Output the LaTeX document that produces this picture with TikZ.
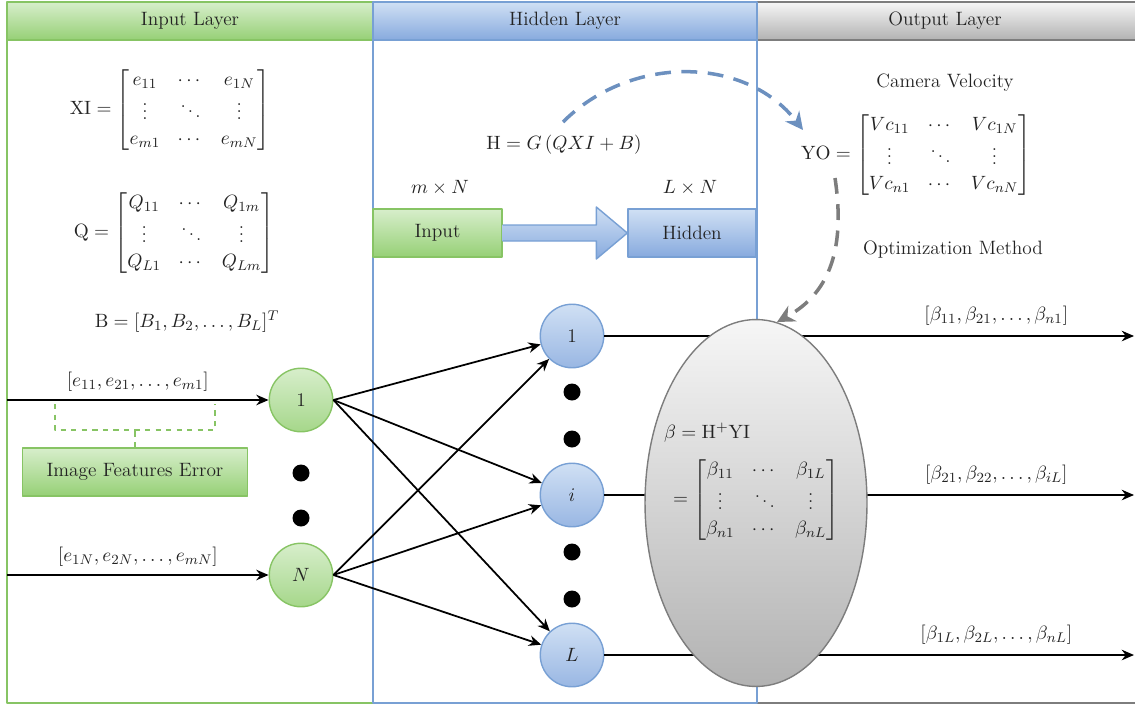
\documentclass[tikz,border=0pt]{standalone}
\usepackage{amsmath}
\usetikzlibrary{arrows.meta,shapes.geometric,positioning,calc}
\definecolor{grnline}{RGB}{135,196,100}
\definecolor{grntop}{RGB}{215,238,203}
\definecolor{grnbot}{RGB}{150,208,118}
\definecolor{blueline}{RGB}{120,160,212}
\definecolor{bluetop}{RGB}{208,224,244}
\definecolor{bluebot}{RGB}{135,170,222}
\definecolor{graytop}{RGB}{246,246,246}
\definecolor{graybot}{RGB}{178,178,178}
\definecolor{grayline}{RGB}{125,125,125}
\definecolor{txt}{RGB}{35,35,35}
\renewcommand{\arraystretch}{1.12}
\tikzset{
  innode/.style={circle, draw=grnline, line width=0.8pt, top color=grntop, bottom color=grnbot!85, minimum size=1.27cm, inner sep=0pt},
  hidnode/.style={circle, draw=blueline, line width=0.8pt, top color=bluetop, bottom color=bluebot!85, minimum size=1.27cm, inner sep=0pt},
  grnbox/.style={rectangle, draw=grnline, line width=0.8pt, top color=grntop, bottom color=grnbot, minimum height=0.96cm, inner sep=0pt},
  bluebox/.style={rectangle, draw=blueline, line width=0.8pt, top color=bluetop, bottom color=bluebot, minimum height=0.96cm, inner sep=0pt},
  outell/.style={ellipse, draw=grayline, line width=0.8pt, top color=graytop, bottom color=graybot, minimum width=4.44cm, minimum height=7.34cm, inner sep=0pt},
  link/.style={line width=1pt, -{Stealth[length=7pt,width=6pt]}},
  blob/.style={fill=black},
}
\begin{document}
\begin{tikzpicture}[x=0.02cm, y=-0.02cm, font=\fontsize{11}{13}\selectfont, text=txt, line join=round, >=Stealth]
  \useasboundingbox (0,0) rectangle (1135,706);
  %%%%%%%%%%%%%%%%%%%%%%%%%%%%%%%%%
  % layers
  \shade[top color=grntop, bottom color=grnbot] (7,2) rectangle (373,40);
  \shade[top color=bluetop, bottom color=bluebot] (373,2) rectangle (757,40);
  \shade[top color=graytop, bottom color=graybot] (757,2) rectangle (1135,40);
  \draw[grnline, line width=0.8pt] (7,2) rectangle (373,703) (7,40) -- (373,40);
  \draw[grayline, line width=0.8pt] (1140,2) -- (757,2) (757,703) -- (1140,703) (757,40) -- (1140,40);
  \draw[blueline, line width=0.8pt] (373,2) rectangle (757,703) (373,40) -- (757,40);
  \node (tin) at (190,21) {Input Layer};
  \node (thid) at (565,21) {Hidden Layer};
  \node (tout) at (945,21) {Output Layer};
  %%%%%%%%%%%%%%%%%%%%%%%%%%%%%%%%%
  % input layer
  \node (xi) at (170,110) {$\mathrm{XI}=\begin{bmatrix} e_{11} & \cdots & e_{1N}\\ \vdots & \ddots & \vdots\\ e_{m1} & \cdots & e_{mN}\end{bmatrix}$};
  \node (q) at (174,233) {$\mathrm{Q}=\begin{bmatrix} Q_{11} & \cdots & Q_{1m}\\ \vdots & \ddots & \vdots\\ Q_{L1} & \cdots & Q_{Lm}\end{bmatrix}$};
  \node (b) at (187,322) {$\mathrm{B}=[B_1,B_2,\ldots,B_L]^T$};
  \node[innode] (in1) at (301,400) {1};
  \node[innode] (inN) at (301,575) {$N$};
  \fill[blob] (301,473) circle (8.5);
  \fill[blob] (301,518) circle (8.5);
  \coordinate (x1) at (7,400);
  \coordinate (xN) at (7,575);
  \draw[link] (x1) -- (in1) node[midway, above=1pt] {$[e_{11},e_{21},\ldots,e_{m1}]$};
  \draw[link] (xN) -- (inN) node[midway, above=1pt] {$[e_{1N},e_{2N},\ldots,e_{mN}]$};
  \node[grnbox, minimum width=4.5cm] (ife) at (135,472) {Image Features Error};
  \draw[grnline, dashed, line width=0.8pt] (ife.north) -- ++(0,-17) coordinate (bm);
  \draw[grnline, dashed, line width=0.8pt] (55,404) -- (55,430) -- (215,430) -- (215,404);
  %%%%%%%%%%%%%%%%%%%%%%%%%%%%%%%%%
  % hidden layer
  \node (hg) at (564,145) {$\mathrm{H}=G\,(QXI+B)$};
  \node (mn) at (440,188) {$m\times N$};
  \node (ln) at (690,188) {$L\times N$};
  \node[grnbox, minimum width=2.58cm] (inbox) at (437.5,233) {Input};
  \node[bluebox, minimum width=2.56cm] (hidbox) at (692,233) {Hidden};
  \draw[blueline, line width=0.8pt, top color=bluetop, bottom color=bluebot]
    ($(inbox.east)+(0,-8)$) -- ($(hidbox.west)+(-31,-8)$) -- ($(hidbox.west)+(-31,-26)$)
    -- (hidbox.west) -- ($(hidbox.west)+(-31,26)$) -- ($(hidbox.west)+(-31,8)$)
    -- ($(inbox.east)+(0,8)$);
  \node[hidnode] (h1) at (572,336) {1};
  \node[hidnode] (hi) at (572,495) {$i$};
  \node[hidnode] (hL) at (572,655) {$L$};
  \foreach \y in {392,439,552,599}
    \fill[blob] (572,\y) circle (8.5);
  \foreach \s in {in1,inN}
    \foreach \t in {h1,hi,hL}
      \draw[link] (\s.east) -- (\t);
  %%%%%%%%%%%%%%%%%%%%%%%%%%%%%%%%%
  % output layer
  \coordinate (o1) at (1134,336);
  \coordinate (oi) at (1134,495);
  \coordinate (oL) at (1134,655);
  \draw[link] (h1.east) -- (o1) node[pos=0.74, above=2pt] {$[\beta_{11},\beta_{21},\ldots,\beta_{n1}]$};
  \draw[link] (hi.east) -- (oi) node[pos=0.74, above=2pt] {$[\beta_{21},\beta_{22},\ldots,\beta_{iL}]$};
  \draw[link] (hL.east) -- (oL) node[pos=0.74, above=2pt] {$[\beta_{1L},\beta_{2L},\ldots,\beta_{nL}]$};
  \node[outell] (beta) at (756,503) {};
  \node[anchor=west] (bh) at (658,433) {$\beta=\mathrm{H}^{+}\mathrm{YI}$};
  \node (bm2) at (756,500) {$=\begin{bmatrix} \beta_{11} & \cdots & \beta_{1L}\\ \vdots & \ddots & \vdots\\ \beta_{n1} & \cdots & \beta_{nL}\end{bmatrix}$};
  \node (cv) at (945,83) {Camera Velocity};
  \node (yo) at (916,155) {$\mathrm{YO}=\begin{bmatrix} Vc_{11} & \cdots & Vc_{1N}\\ \vdots & \ddots & \vdots\\ Vc_{n1} & \cdots & Vc_{nN}\end{bmatrix}$};
  \node (om) at (953,250) {Optimization Method};
  %%%%%%%%%%%%%%%%%%%%%%%%%%%%%%%%%
  % feedback curves
  \coordinate (c1) at (563,122);
  \coordinate (c2) at (803,130);
  \coordinate (c3) at (835,178);
  \coordinate (c4) at (777,322);
  \draw[blueline!90!black, line width=2pt, dash pattern=on 9pt off 6pt, -{Stealth[length=10pt,width=10pt]}]
    (c1) .. controls (630,55) and (745,55) .. (c2);
  \draw[grayline, line width=2pt, dash pattern=on 9pt off 6pt, -{Stealth[length=10pt,width=10pt]}]
    (c3) .. controls (845,245) and (832,292) .. (c4);
\end{tikzpicture}
\end{document}
